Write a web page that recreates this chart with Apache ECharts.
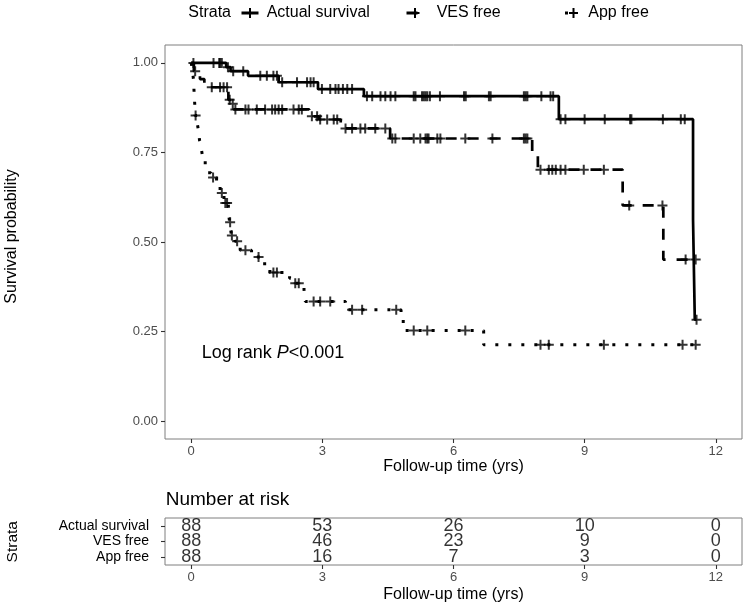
<!DOCTYPE html>
<html><head><meta charset="utf-8">
<script src="https://cdn.jsdelivr.net/npm/echarts@6/dist/echarts.min.js"></script>
<style>html,body{margin:0;padding:0;background:#fff}#c{width:750px;height:609px}</style>
</head><body><div id="c"></div>
<script>
// ---------- data ----------
const strata = ['Actual survival', 'VES free', 'App free'];

// Kaplan-Meier step points (time in years, survival probability after that time)
const actualTimes = [0, 0.80, 0.90, 1.30, 2.00, 2.90, 3.95, 8.41, 11.48, 11.52];
const actualSurv  = [1.0, 0.988, 0.977, 0.964, 0.946, 0.927, 0.907, 0.843, 0.562, 0.283];
const actualCensor = [0.05, 0.51, 0.64, 0.66, 0.70, 0.84, 0.96, 1.19, 1.58, 1.73, 1.88, 1.96,
  2.08, 2.42, 2.65, 2.73, 2.80, 2.99, 3.18, 3.30, 3.37, 3.47, 3.57, 3.68,
  4.02, 4.14, 4.33, 4.44, 4.56, 4.67, 5.09, 5.13, 5.28, 5.32, 5.36, 5.40, 5.46, 5.69,
  6.24, 6.28, 6.81, 6.85, 7.61, 7.65, 7.69, 8.01, 8.22, 8.28,
  8.45, 8.56, 9.00, 9.46, 10.04, 10.07, 10.79, 11.20, 11.29, 11.56];

const vesTimes = [0, 0.06, 0.20, 0.30, 0.85, 0.92, 0.97, 2.70, 2.92, 3.42, 4.55, 7.80, 7.93, 9.87, 10.80];
const vesSurv  = [1.0, 0.977, 0.955, 0.932, 0.897, 0.886, 0.870, 0.851, 0.842, 0.817, 0.789, 0.744, 0.702, 0.602, 0.451];
const vesCensor = [0.09, 0.47, 0.66, 0.74, 0.82, 0.88, 0.95, 1.01, 1.24, 1.31, 1.50, 1.69, 1.85, 1.92, 2.00,
  2.08, 2.34, 2.46, 2.53, 2.76, 2.88, 2.95, 3.11, 3.26, 3.34, 3.53, 3.68, 3.87, 3.98, 4.21, 4.44,
  4.60, 4.67, 5.09, 5.24, 5.36, 5.40, 5.43, 5.63, 5.70, 6.27, 6.89, 7.61, 7.65, 7.69,
  7.99, 8.18, 8.26, 8.34, 8.45, 8.56, 8.98, 9.44, 10.02, 10.78, 11.31, 11.54];

const appTimes = [0, 0.03, 0.05, 0.065, 0.08, 0.085, 0.14, 0.17, 0.19, 0.23, 0.26, 0.32, 0.36, 0.45,
  0.58, 0.66, 0.75, 0.85, 0.88, 0.92, 1.00, 1.12, 1.38, 1.68, 1.80, 2.25, 2.32, 2.58, 2.61,
  3.53, 4.80, 4.85, 6.69];
const appSurv  = [1.0, 0.977, 0.955, 0.920, 0.886, 0.853, 0.830, 0.807, 0.784, 0.761, 0.738, 0.716, 0.693, 0.680,
  0.657, 0.637, 0.609, 0.581, 0.555, 0.518, 0.502, 0.477, 0.458, 0.432, 0.415, 0.399, 0.385, 0.367, 0.334,
  0.311, 0.288, 0.253, 0.213];
const appCensor = [0.10, 0.50, 0.70, 0.78, 0.82, 0.89, 0.93, 1.05, 1.24, 1.54, 1.88, 1.96, 2.38, 2.46,
  2.80, 2.95, 3.18, 3.68, 3.91, 4.69, 5.09, 5.40, 6.27, 7.99, 8.18, 9.44, 11.24, 11.54];

// Number at risk table
const riskTimes = [0, 3, 6, 9, 12];
const riskActual = [88, 53, 26, 10, 0];
const riskVES = [88, 46, 23, 9, 0];
const riskApp = [88, 16, 7, 3, 0];

const xTicks = [0, 3, 6, 9, 12];
const yTicks = [0, 0.25, 0.5, 0.75, 1];

// ---------- helpers ----------
function survAt(times, surv, t) {
  let s = surv[0];
  for (let i = 0; i < times.length; i++) if (times[i] <= t) s = surv[i];
  return s;
}
function curve(times, surv, cens) {
  const d = times.map((t, i) => [t, surv[i]]);
  d.push([Math.max.apply(null, cens), surv[surv.length - 1]]);
  return d;
}
function marks(times, surv, cens) { return cens.map(t => [t, survAt(times, surv, t)]); }

const FONT = 'Liberation Sans, Arial, sans-serif';
const PLUS = 'path://M4,0L6,0L6,4L10,4L10,6L6,6L6,10L4,10L4,6L0,6L0,4L4,4Z';
const ICON_ACTUAL = 'path://M0,3.6L7.5,3.6L7.5,0L9.5,0L9.5,3.6L17,3.6L17,6.4L9.5,6.4L9.5,10L7.5,10L7.5,6.4L0,6.4Z';
const ICON_VES = 'path://M0,3.6L7.5,3.6L7.5,0L9.5,0L9.5,3.6L11,3.6L11,4L13,4L13,6L11,6L11,6.4L9.5,6.4L9.5,10L7.5,10L7.5,6.4L0,6.4Z';
const ICON_APP = 'path://M0,3.4L3,3.4L3,6.6L0,6.6Z M7.5,0L9.5,0L9.5,4L13,4L13,6L9.5,6L9.5,10L7.5,10L7.5,6L4,6L4,4L7.5,4Z';

const lineStyles = [
  {color: '#000', width: 2.7, type: 'solid'},
  {color: '#000', width: 2.7, type: [11, 11]},
  {color: '#000', width: 3, type: [3, 10]}
];
const sets = [
  [actualTimes, actualSurv, actualCensor],
  [vesTimes, vesSurv, vesCensor],
  [appTimes, appSurv, appCensor]
];
const riskRows = [riskActual, riskVES, riskApp];

const series = [];
sets.forEach((s, i) => {
  series.push({
    name: strata[i], type: 'line', step: 'end', xAxisIndex: 0, yAxisIndex: 0,
    data: curve(s[0], s[1], s[2]), showSymbol: false, symbol: 'none',
    color: '#000', lineStyle: lineStyles[i], z: 2, silent: true
  });
  series.push({
    name: strata[i] + ' censored', type: 'scatter', xAxisIndex: 0, yAxisIndex: 0,
    data: marks(s[0], s[1], s[2]), symbol: PLUS, symbolSize: 10,
    itemStyle: {color: '#000'}, z: 3, silent: true
  });
  series.push({
    name: strata[i] + ' at risk', type: 'scatter', xAxisIndex: 1, yAxisIndex: 1,
    data: riskTimes.map((t, k) => [t, strata[i], riskRows[i][k]]),
    symbolSize: 0.01, itemStyle: {color: 'rgba(0,0,0,0)'},
    label: {show: true, position: 'inside', formatter: p => String(p.value[2]),
      fontSize: 18, color: '#000', fontFamily: FONT},
    silent: true
  });
});

function legendItem(name, icon, left, w) {
  return {
    left: left, top: 5, padding: 0, itemWidth: w, itemHeight: 10, selectedMode: false,
    itemStyle: {borderWidth: 0},
    data: [{name: name, icon: icon}],
    textStyle: {fontSize: 16, color: '#000', fontFamily: FONT}
  };
}

const axisTextColor = '#4d4d4d';
const tickStyle = {color: '#333', width: 1.1};
const option = {
  animation: false,
  backgroundColor: '#fff',
  textStyle: {fontFamily: FONT},
  grid: [
    {left: 165, right: 8, top: 45, bottom: 170, show: true, borderColor: '#7f7f7f', borderWidth: 1},
    {left: 165, right: 8, top: 518, bottom: 44, show: true, borderColor: '#7f7f7f', borderWidth: 1}
  ],
  legend: [
    legendItem(strata[0], ICON_ACTUAL, 241.5, 23.4),
    legendItem(strata[1], ICON_VES, 406.5, 37.4),
    legendItem(strata[2], ICON_APP, 565, 23.6)
  ],
  xAxis: [
    {type: 'value', gridIndex: 0, min: -0.6, max: 12.6, position: 'bottom',
      axisLine: {show: false, onZero: false}, splitLine: {show: false},
      axisTick: {show: true, length: 4, lineStyle: tickStyle, customValues: xTicks},
      axisLabel: {customValues: xTicks, color: axisTextColor, fontSize: 13, margin: 6, fontFamily: FONT}},
    {type: 'value', gridIndex: 1, min: -0.6, max: 12.6, position: 'bottom',
      axisLine: {show: false, onZero: false}, splitLine: {show: false},
      axisTick: {show: true, length: 4, lineStyle: tickStyle, customValues: xTicks},
      axisLabel: {customValues: xTicks, color: axisTextColor, fontSize: 13, margin: 6, fontFamily: FONT}}
  ],
  yAxis: [
    {type: 'value', gridIndex: 0, min: -0.05, max: 1.05, position: 'left',
      axisLine: {show: false, onZero: false}, splitLine: {show: false},
      axisTick: {show: true, length: 4, lineStyle: tickStyle, customValues: yTicks},
      axisLabel: {customValues: yTicks, formatter: v => v.toFixed(2), color: axisTextColor,
        fontSize: 13, margin: 7, fontFamily: FONT}},
    {type: 'category', gridIndex: 1, data: strata.slice().reverse(), position: 'left',
      axisLine: {show: false, onZero: false}, splitLine: {show: false},
      axisTick: {show: true, alignWithLabel: true, interval: 0, length: 4, lineStyle: tickStyle},
      axisLabel: {interval: 0, color: '#000', fontSize: 14, margin: 16, fontFamily: FONT}}
  ],
  graphic: [
    {type: 'text', x: 188.3, y: 12.3, silent: true,
      style: {text: 'Strata', font: '16px ' + FONT, fill: '#000', align: 'left', verticalAlign: 'middle'}},
    {type: 'text', x: 12, y: 236.5, rotation: Math.PI / 2, silent: true,
      style: {text: 'Survival probability', font: '16px ' + FONT, fill: '#000', align: 'center', verticalAlign: 'middle'}},
    {type: 'text', x: 453.5, y: 467, silent: true,
      style: {text: 'Follow-up time (yrs)', font: '16px ' + FONT, fill: '#000', align: 'center', verticalAlign: 'middle'}},
    {type: 'text', x: 201.7, y: 353, silent: true,
      style: {text: '{a|Log rank }{b|P}{a|<0.001}', verticalAlign: 'middle', align: 'left',
        rich: {a: {fontSize: 18, fontFamily: FONT, fill: '#000'},
               b: {fontSize: 18, fontFamily: FONT, fontStyle: 'italic', fill: '#000'}}}},
    {type: 'text', x: 165.7, y: 500, silent: true,
      style: {text: 'Number at risk', font: '19px ' + FONT, fill: '#000', align: 'left', verticalAlign: 'middle'}},
    {type: 'text', x: 12.5, y: 541.7, rotation: Math.PI / 2, silent: true,
      style: {text: 'Strata', font: '15.5px ' + FONT, fill: '#000', align: 'center', verticalAlign: 'middle'}},
    {type: 'text', x: 453.5, y: 595, silent: true,
      style: {text: 'Follow-up time (yrs)', font: '16px ' + FONT, fill: '#000', align: 'center', verticalAlign: 'middle'}}
  ],
  series: series
};

const chart = echarts.init(document.getElementById('c'), null, {renderer: 'canvas'});
chart.setOption(option);
</script>
</body></html>
